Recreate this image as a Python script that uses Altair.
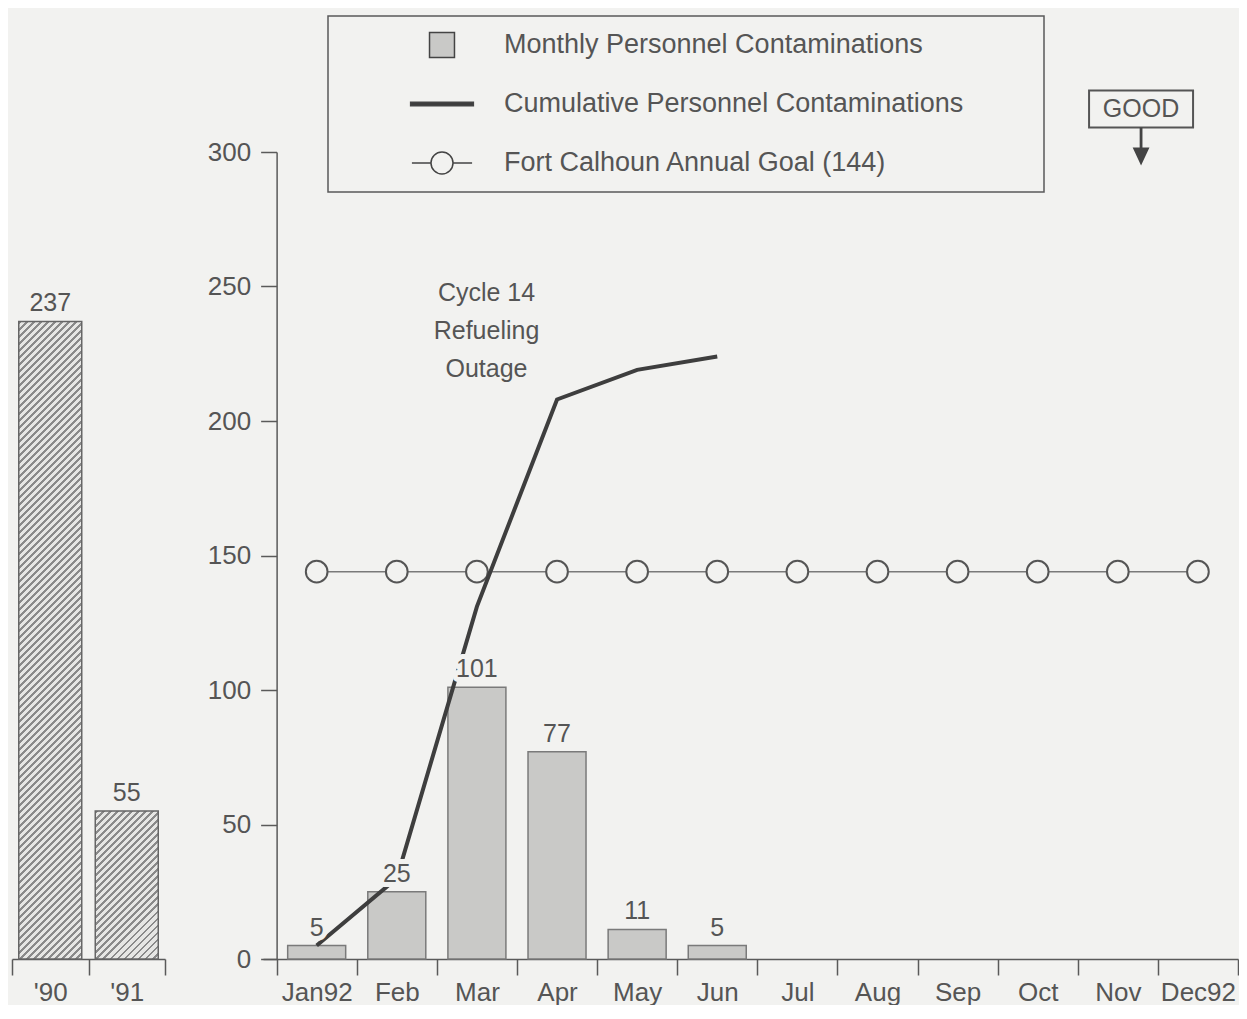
import json
import altair as alt
import pandas as pd

# ---------------- data ----------------
years = ["'90", "'91"]
year_totals = [237, 55]

months = ["Jan92", "Feb", "Mar", "Apr", "May", "Jun",
          "Jul", "Aug", "Sep", "Oct", "Nov", "Dec92"]
monthly = [5, 25, 101, 77, 11, 5]
cumulative = [5, 30, 131, 208, 219, 224]
goal = [144, 144, 144, 144, 144, 144, 144, 144, 144, 144, 144, 144]

series = ["Monthly Personnel Contaminations",
          "Cumulative Personnel Contaminations",
          "Fort Calhoun Annual Goal (144)"]

outage_note = ["Cycle 14", "Refueling", "Outage"]
good_label = "GOOD"

# ---------------- styles ----------------
FONT = "Liberation Sans"
TXT = "#555555"
AXC = "#5a5a5a"
BG = "#f2f2f0"
BAR_FILL = "#c9c9c7"
BAR_STROKE = "#7a7a7a"
LINE_COLOR = "#3e3e3e"
PLOT_H = 807
LEFT_W = 153
MAIN_W = 975
Y_MAX = 300
X_MIN = -0.17
STEP = MAIN_W / (len(months) - X_MIN)
FS = 26


def hatch(w, h, period=7.0, dark_frac=0.4, light="#e6e6e4", dark="#8a8a8a"):
    L = w + h
    n = int(L / period)
    stops = []
    for k in range(n):
        a = k / n
        b = (k + dark_frac) / n
        c = (k + 1) / n
        stops += [{"offset": a, "color": dark}, {"offset": b, "color": dark},
                  {"offset": b, "color": light}, {"offset": c, "color": light}]
    s = L / (w * w + h * h)
    return {"gradient": "linear", "x1": 0, "y1": 0, "x2": w * s, "y2": h * s,
            "stops": stops}


def circle_path(r, k=0.5523):
    c = r * k
    return (f"M{r},0 C{r},{c} {c},{r} 0,{r} C{-c},{r} {-r},{c} {-r},0 "
            f"C{-r},{-c} {-c},{-r} 0,{-r} C{c},{-r} {r},{-c} {r},0 Z")


sq_path = "M-0.39,-0.39 L0.39,-0.39 L0.39,0.39 L-0.39,0.39 Z"
line_path = "M-0.98,-0.055 L0.98,-0.055 L0.98,0.055 L-0.98,0.055 Z"
goal_path = "M-0.94,0 L-0.344,0 M0.344,0 L0.94,0 " + circle_path(0.344)
box_path = "M-1,-0.356 L1,-0.356 L1,0.356 L-1,0.356 Z"
arrow_path = "M-0.07,-0.95 L0.07,-0.95 L0.07,0.05 L0.42,0.05 L0,0.95 L-0.42,0.05 L-0.07,0.05 Z"

# ---------------- tables ----------------
left_df = pd.DataFrame({"year": years, "total": year_totals,
                        "pos": [i + 0.5 for i in range(len(years))]})
goal_df = pd.DataFrame({"month": months, "goal": goal,
                        "pos": [i + 0.5 for i in range(len(months))]})
month_df = pd.DataFrame({"month": months[:len(monthly)], "count": monthly,
                         "cum": cumulative,
                         "pos": [i + 0.5 for i in range(len(monthly))]})
legend_df = pd.DataFrame({"series": series})

AX_COMMON = dict(grid=False, labelOverlap=False, labelFlush=False, orient="bottom")


def x_axes(n, names):
    sc = alt.Scale(domain=[X_MIN if n == len(months) else 0, n],
                   nice=False, zero=False, padding=0)
    ticks = alt.X("pos:Q", title=None, scale=sc,
                  axis=alt.Axis(values=list(range(n + 1)), labels=False, tickSize=16,
                                **AX_COMMON))
    labels = alt.X("pos:Q", title=None, scale=sc,
                   axis=alt.Axis(values=[i + 0.5 for i in range(n)],
                                 labelExpr=f"{json.dumps(names)}[floor(datum.value)]",
                                 ticks=False, tickSize=0, domain=False, labelPadding=20,
                                 **AX_COMMON))
    plain = alt.X("pos:Q", title=None, scale=sc, axis=None)
    return ticks, labels, plain


# ---------------- left panel ('90, '91) ----------------
xl_t, xl_l, xl_n = x_axes(len(years), years)
yl = alt.Y("total:Q", title=None,
           scale=alt.Scale(domain=[0, Y_MAX], nice=False), axis=None)

left_layers = []
for i, (yr, tot) in enumerate(zip(years, year_totals)):
    bw, bh = 63, tot / Y_MAX * PLOT_H
    left_layers.append(
        alt.Chart(left_df).transform_filter(alt.datum.year == yr)
        .mark_bar(width=bw, fill=hatch(bw, bh), stroke="#666666", strokeWidth=1.5)
        .encode(x=xl_t if i == 0 else xl_n, y=yl)
    )
left_labels = alt.Chart(left_df).mark_text(
    font=FONT, fontSize=25, color=TXT, dy=-10, baseline="alphabetic"
).encode(x=xl_l, y=yl, text="total:Q")

left_chart = alt.layer(*left_layers, left_labels).resolve_axis(x="independent").properties(
    width=LEFT_W, height=PLOT_H)

# ---------------- main panel ----------------
xm_t, xm_l, xm_n = x_axes(len(months), months)


def ym(field):
    return alt.Y(field, title=None,
                 scale=alt.Scale(domain=[0, Y_MAX], nice=False),
                 axis=alt.Axis(values=list(range(0, Y_MAX + 1, 50)), tickSize=16,
                               labelPadding=10, offset=X_MIN * STEP, grid=False,
                               labelOverlap=False, labelFlush=False))


bars = alt.Chart(month_df).mark_bar(
    width=58, fill=BAR_FILL, stroke=BAR_STROKE, strokeWidth=1.5
).encode(x=xm_t, y=ym("count:Q"))

label_halo = alt.Chart(month_df).mark_text(
    font=FONT, fontSize=25, color=BG, stroke=BG, strokeWidth=10, strokeJoin="round",
    dy=-10, baseline="alphabetic"
).encode(x=xm_n, y=ym("count:Q"), text="count:Q")
bar_labels = alt.Chart(month_df).mark_text(
    font=FONT, fontSize=25, color=TXT, dy=-10, baseline="alphabetic"
).encode(x=xm_n, y=ym("count:Q"), text="count:Q")

goal_line = alt.Chart(goal_df).mark_line(color="#7a7a7a", strokeWidth=1.5).encode(
    x=xm_l, y=ym("goal:Q"))
goal_pts = alt.Chart(goal_df).mark_point(
    shape="circle", size=470, filled=True, fill=BG, stroke="#555555",
    strokeWidth=2, opacity=1
).encode(x=xm_n, y=ym("goal:Q"))

cum_line = alt.Chart(month_df).mark_line(color=LINE_COLOR, strokeWidth=4).encode(
    x=xm_n, y=ym("cum:Q"))

note_df = pd.DataFrame({"pos": [2.62], "v": [247.6]})
note = alt.Chart(note_df).mark_text(
    font=FONT, fontSize=25, color=TXT, lineHeight=38, align="center", baseline="middle"
).encode(x=xm_n, y=ym("v:Q"), text=alt.value(outage_note))

good_df = pd.DataFrame({"pos": [10.79], "v": [316], "arrow": [302]})
good_text = alt.Chart(good_df).mark_text(
    font=FONT, fontSize=25, color=TXT, align="center", baseline="middle"
).encode(x=xm_n, y=ym("v:Q"), text=alt.value(good_label))
good_box = alt.Chart(good_df).mark_point(
    shape=box_path, size=104 * 104, filled=False, stroke="#555555", strokeWidth=2, opacity=1
).encode(x=xm_n, y=ym("v:Q"))
good_arrow = alt.Chart(good_df).mark_point(
    shape=arrow_path, size=1600, filled=True, fill="#444444", opacity=1
).encode(x=xm_n, y=ym("arrow:Q"))

leg = alt.Legend(
    title=None, orient="none", legendX=316, legendY=-136, padding=13,
    strokeColor="#5a5a5a",
    symbolSize=4096, clipHeight=32, rowPadding=27, symbolOffset=68, labelOffset=29,
    labelFont=FONT, labelFontSize=27, labelColor=TXT, labelLimit=2000,
    symbolOpacity=1,
    labelExpr="datum.label + '         \u200b'")
legend_layer = alt.Chart(legend_df).mark_point(
    filled=True, opacity=0, stroke="#444444", strokeWidth=1.5
).encode(
    color=alt.Color("series:N", scale=alt.Scale(domain=series,
                    range=[BAR_FILL, LINE_COLOR, "transparent"]), legend=leg),
    shape=alt.Shape("series:N", scale=alt.Scale(domain=series,
                    range=[sq_path, line_path, goal_path]), legend=leg),
)

main_chart = alt.layer(
    bars, goal_line, goal_pts, cum_line, label_halo, bar_labels, note,
    good_box, good_text, good_arrow, legend_layer
).resolve_axis(x="independent").properties(width=MAIN_W, height=PLOT_H)

chart = alt.hconcat(left_chart, main_chart, spacing=98, bounds="flush").properties(
    padding={"left": 3, "top": 7, "right": 0, "bottom": 0},
    background=BG,
).configure_view(stroke=None).configure_axis(
    labelFont=FONT, labelFontSize=FS, labelColor=TXT,
    domainColor=AXC, tickColor=AXC, domainWidth=1.5, tickWidth=1.5,
).configure_legend(strokeWidth=1.5)

chart.save("out.html", embed_options={"renderer": "svg", "actions": False})
